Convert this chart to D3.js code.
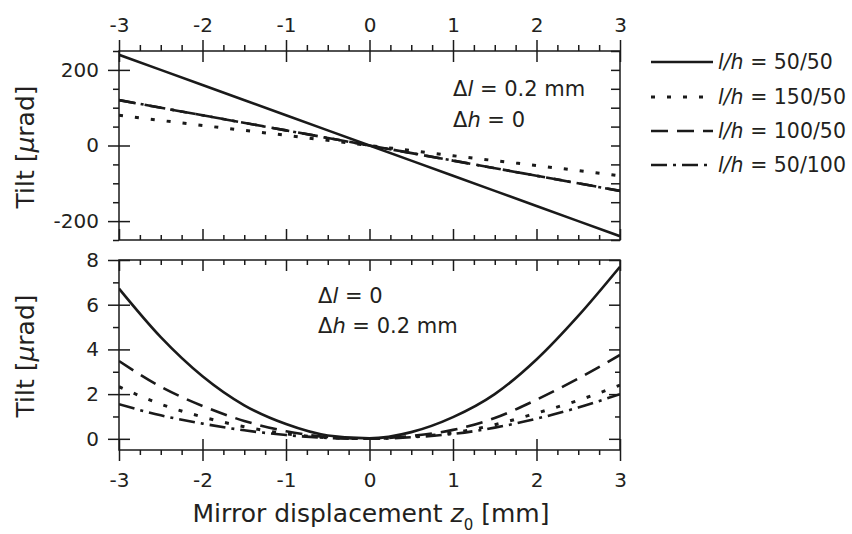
<!DOCTYPE html>
<html>
<head>
<meta charset="utf-8">
<script src="https://cdn.jsdelivr.net/npm/d3@7"></script>
<style>
  html, body { margin: 0; padding: 0; background: #fff; }
  svg { display: block; font-family: "DejaVu Sans", sans-serif; }
  .axis path, .axis line { stroke: #1a1a1a; stroke-width: 1.5; }
  .axis text { fill: #231f20; font-size: 20px; font-family: "DejaVu Sans", sans-serif; }
</style>
</head>
<body>
<svg id="chart" width="852" height="534"></svg>
<script>
// Mirror displacement z0 [mm]
const xTicks = [-3, -2, -1, 0, 1, 2, 3];

// Upper panel: tilt for Δl = 0.2 mm, Δh = 0 (linear in z0)
const zUpper = [-3, -2, -1, 0, 1, 2, 3];
const upper_50_50  = [240, 160, 80, 0, -80, -160, -240];
const upper_150_50 = [80, 53, 27, 0, -27, -53, -80];
const upper_100_50 = [120, 80, 40, 0, -40, -80, -120];
const upper_50_100 = [120, 80, 40, 0, -40, -80, -120];
const upperTicks = [-200, 0, 200];

// Lower panel: tilt for Δl = 0, Δh = 0.2 mm
const zLower = [-3, -2.5, -2, -1.5, -1, -0.5, 0, 0.5, 1, 1.5, 2, 2.5, 3];
const lower_50_50  = [6.72, 4.55, 2.8, 1.5, 0.66, 0.15, 0.02, 0.3, 0.97, 2.0, 3.55, 5.5, 7.7];
const lower_150_50 = [2.33, 1.55, 0.98, 0.54, 0.23, 0.05, 0.01, 0.09, 0.27, 0.63, 1.15, 1.72, 2.4];
const lower_100_50 = [3.48, 2.33, 1.47, 0.8, 0.34, 0.08, 0.01, 0.13, 0.4, 0.93, 1.75, 2.7, 3.75];
const lower_50_100 = [1.55, 1.05, 0.68, 0.38, 0.17, 0.04, 0.0, 0.07, 0.22, 0.5, 0.9, 1.4, 2.0];
const lowerTicks = [0, 2, 4, 6, 8];

const seriesNames = ["50/50", "150/50", "100/50", "50/100"];
const dashes = [null, "4,12", "17,9", "16,6,3,6"];

const svg = d3.select("#chart");
const ink = "#1a1a1a";

const x = d3.scaleLinear().domain([-3, 3]).range([119, 620]);
const yU = d3.scaleLinear().domain([-250, 250]).range([240, 51]);
const yL = d3.scaleLinear().domain([-0.5, 8]).range([450, 260]);

const xMinor = d3.range(-3, 3.001, 0.25).filter(v => Math.abs(v - Math.round(v)) > 1e-6);
const yUMinor = d3.range(-250, 251, 50).filter(v => !upperTicks.includes(v));
const yUAll = d3.range(-250, 251, 50);
const yLMinor = [1, 3, 5, 7];

// Axis helper: draws one tick set on one side of a panel
function ticks(axisFn, scale, values, size, pos, withLabels, padding) {
  const a = axisFn(scale).tickValues(values).tickSize(size).tickSizeOuter(0);
  if (withLabels) a.tickPadding(padding).tickFormat(d => String(d));
  else a.tickFormat("");
  const g = svg.append("g").attr("class", "axis").attr("transform", pos).call(a);
  g.select(".domain").remove();
  return g;
}

function frame(top, bottom) {
  svg.append("rect")
    .attr("x", x(-3)).attr("y", top)
    .attr("width", x(3) - x(-3)).attr("height", bottom - top)
    .attr("fill", "none").attr("stroke", ink).attr("stroke-width", 1.5);
}

// ----- curves -----
function drawSeries(zs, series, yScale, clipId, top, bottom) {
  svg.append("clipPath").attr("id", clipId)
    .append("rect").attr("x", x(-3)).attr("y", top)
    .attr("width", x(3) - x(-3)).attr("height", bottom - top);
  const line = d3.line().x(d => x(d[0])).y(d => yScale(d[1])).curve(d3.curveMonotoneX);
  const g = svg.append("g").attr("clip-path", `url(#${clipId})`);
  series.forEach((vals, i) => {
    g.append("path")
      .datum(zs.map((z, k) => [z, vals[k]]))
      .attr("d", line)
      .attr("fill", "none")
      .attr("stroke", ink)
      .attr("stroke-width", i === 1 ? 3 : 2.6)
      .attr("stroke-dasharray", dashes[i]);
  });
}

drawSeries(zUpper, [upper_50_50, upper_150_50, upper_100_50, upper_50_100], yU, "clipU", 51, 240);
drawSeries(zLower, [lower_50_50, lower_150_50, lower_100_50, lower_50_100], yL, "clipL", 260, 450);

// ----- upper panel axes -----
frame(51, 240);
// top: major crossing, minor outside, labels
ticks(d3.axisTop, x, xTicks, 11, "translate(0,51)", true, 8);
ticks(d3.axisTop, x, xTicks, -11, "translate(0,51)", false);
ticks(d3.axisTop, x, xMinor, 6, "translate(0,51)", false);
// bottom: inside
ticks(d3.axisBottom, x, xTicks, -11, "translate(0,240)", false);
ticks(d3.axisBottom, x, xMinor, -5, "translate(0,240)", false);
// left: major crossing, minor outside, labels
ticks(d3.axisLeft, yU, upperTicks, 11, "translate(119,0)", true, 9);
ticks(d3.axisLeft, yU, upperTicks, -11, "translate(119,0)", false);
ticks(d3.axisLeft, yU, yUMinor, 6, "translate(119,0)", false);
// right: inside
ticks(d3.axisRight, yU, yUAll, -9, "translate(620,0)", false);

// ----- lower panel axes -----
frame(260, 450);
ticks(d3.axisTop, x, xTicks, -11, "translate(0,260)", false);
ticks(d3.axisTop, x, xMinor, -5, "translate(0,260)", false);
ticks(d3.axisBottom, x, xTicks, 11, "translate(0,450)", true, 12);
ticks(d3.axisBottom, x, xTicks, -11, "translate(0,450)", false);
ticks(d3.axisBottom, x, xMinor, 5, "translate(0,450)", false);
ticks(d3.axisLeft, yL, lowerTicks, 11, "translate(119,0)", true, 9);
ticks(d3.axisLeft, yL, lowerTicks, -11, "translate(119,0)", false);
ticks(d3.axisLeft, yL, yLMinor, 6, "translate(119,0)", false);
ticks(d3.axisRight, yL, lowerTicks, -11, "translate(620,0)", false);
ticks(d3.axisRight, yL, yLMinor, -5, "translate(620,0)", false);

// ----- axis titles -----
const textColor = "#231f20";
function tiltTitle(cy) {
  const t = svg.append("text")
    .attr("transform", `translate(34,${cy}) rotate(-90)`)
    .attr("text-anchor", "middle")
    .attr("font-size", 25).attr("fill", textColor);
  t.append("tspan").text("Tilt [");
  t.append("tspan").attr("font-style", "italic").text("\u03BC");
  t.append("tspan").text("rad]");
}
tiltTitle(147);
tiltTitle(356);

const xt = svg.append("text")
  .attr("x", 371).attr("y", 522)
  .attr("text-anchor", "middle")
  .attr("font-size", 25).attr("fill", textColor);
xt.append("tspan").text("Mirror displacement ");
xt.append("tspan").attr("font-style", "italic").text("z");
xt.append("tspan").attr("font-size", 15).attr("dy", 8).text("0");
xt.append("tspan").attr("dy", -8).text(" [mm]");

// ----- annotations -----
function note(x0, y0, sym, rest) {
  const t = svg.append("text").attr("x", x0).attr("y", y0)
    .attr("font-size", 21).attr("fill", textColor);
  t.append("tspan").text("\u0394");
  t.append("tspan").attr("font-style", "italic").text(sym);
  t.append("tspan").text(rest);
}
note(453, 96, "l", " = 0.2 mm");
note(453, 127, "h", " = 0");
note(318, 303, "l", " = 0");
note(318, 333, "h", " = 0.2 mm");

// ----- legend -----
const legendY = [62, 97, 131, 165];
seriesNames.forEach((name, i) => {
  const yy = legendY[i];
  svg.append("line")
    .attr("x1", 651).attr("x2", 713).attr("y1", yy).attr("y2", yy)
    .attr("stroke", ink).attr("stroke-width", i === 1 ? 3 : 2.6)
    .attr("stroke-dasharray", dashes[i]);
  const t = svg.append("text").attr("x", 718).attr("y", yy).attr("dy", "0.36em")
    .attr("font-size", 20.5).attr("fill", textColor);
  t.append("tspan").attr("font-style", "italic").text("l/h");
  t.append("tspan").text(" = " + name);
});
</script>
</body>
</html>
